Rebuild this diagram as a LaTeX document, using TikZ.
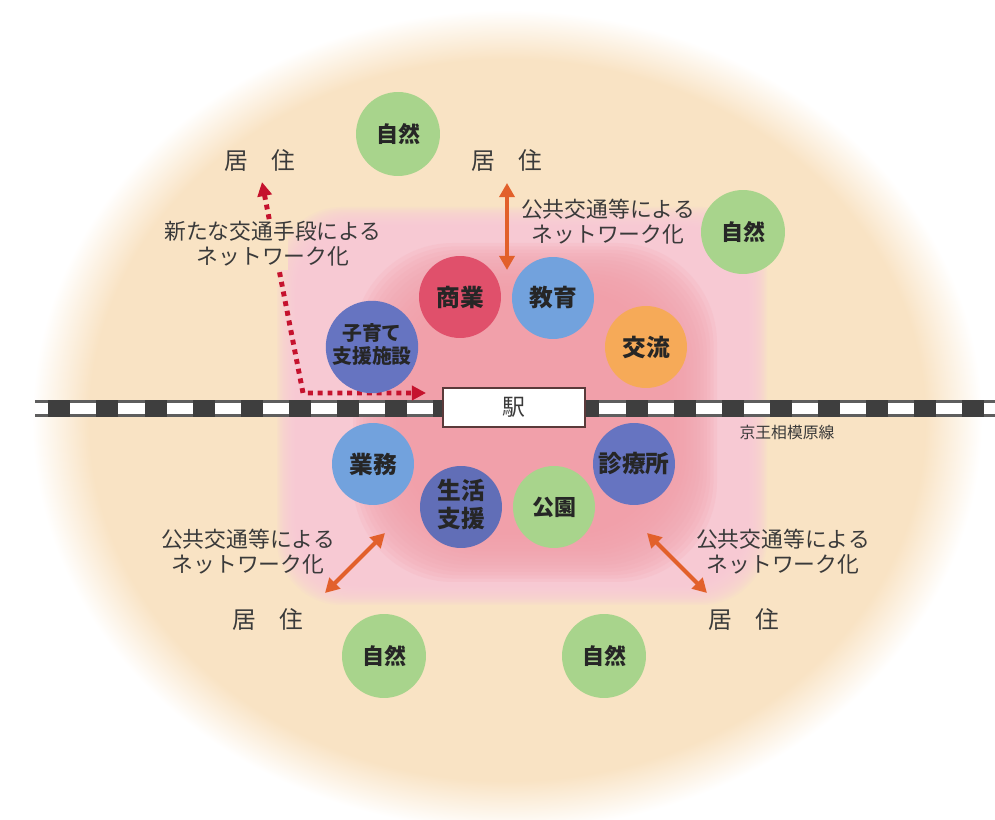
\documentclass[tikz,border=0pt]{standalone}
\usepackage{fontspec}
\setmainfont{Noto Sans CJK JP}
\usetikzlibrary{arrows.meta}
\definecolor{bgbeige}{HTML}{F9E3C4}
\definecolor{pinkbg}{HTML}{F7C9D9}
\definecolor{redblob}{HTML}{F1A0AA}
\definecolor{natgreen}{HTML}{A8D48C}
\definecolor{shored}{HTML}{E0506B}
\definecolor{edublue}{HTML}{72A2DD}
\definecolor{koorange}{HTML}{F6AA58}
\definecolor{purpblue}{HTML}{6674C1}
\definecolor{arroworange}{HTML}{E2602B}
\definecolor{dotred}{HTML}{C5122D}
\definecolor{txtgray}{HTML}{3A3A3A}
\definecolor{trackdark}{HTML}{3E3E3E}
\definecolor{trackline}{HTML}{5E5E5E}
\definecolor{ekiframe}{HTML}{5A3A3A}
\pgfdeclareradialshading{beigefade}{\pgfpoint{0bp}{0bp}}{color(0bp)=(bgbeige); color(22bp)=(bgbeige); color(25bp)=(white); color(50bp)=(white)}
\newcommand\twolines[2]{\begin{tabular}{@{}c@{}}#1\\#2\end{tabular}}
\tikzset{
  circ/.style={circle, minimum size=1.64cm, inner sep=0pt, text=black!85,
    font=\fontsize{13.5pt}{15pt}\selectfont\bfseries, align=center},
  nat/.style={circ, fill=natgreen, minimum size=1.68cm,
    font=\fontsize{12.5pt}{14pt}\selectfont\bfseries},
  kyo/.style={text=txtgray, inner sep=0pt, font=\fontsize{13.5pt}{15pt}\selectfont},
  netlbl/.style={text=txtgray, inner sep=1pt, font=\fontsize{12.4pt}{13pt}\selectfont},
  dblarrow/.style={arroworange, line width=2.3pt,
    {Triangle[length=8pt,width=8.5pt]}-{Triangle[length=8pt,width=8.5pt]}},
  dotpath/.style={dotred, line width=2.8pt, dash pattern=on 2.8pt off 2.8pt,
    {Triangle[length=8pt,width=8pt]}-{Triangle[length=8pt,width=8pt]}},
}
\begin{document}
\begin{tikzpicture}[x=0.02cm, y=-0.02cm]
\useasboundingbox (0,0) rectangle (995,820);
\fill[white] (0,0) rectangle (995,820);
% beige field
\shade[shading=beigefade] (507,420) ellipse [x radius=475, y radius=410];
% pink soft square
\foreach \i in {0,...,19} {
  \pgfmathsetmacro\o{15*(1-\i/9.5)}
  \fill[pinkbg, fill opacity=0.15, rounded corners=1.3cm]
    (292-\o,222-\o) rectangle (752+\o,590+\o);
}
% darker central blob
\foreach \i in {0,...,19} {
  \pgfmathsetmacro\o{32*(1-\i/9.5)}
  \fill[redblob, fill opacity=0.15, rounded corners=2cm]
    (385-\o,275-\o) rectangle (685+\o,550+\o);
}
% railway
\fill[trackline] (35,400) rectangle (995,417);
\fill[white] (35,403) rectangle (995,414);
\foreach \k in {0,...,19} {
  \fill[trackdark] ({48.3+48.1*\k},400) rectangle +(22,17);
}
\node[draw=ekiframe, line width=1.1pt, fill=white, minimum width=2.84cm,
  minimum height=0.78cm, text=txtgray, font=\fontsize{13pt}{15pt}\selectfont]
  (eki) at (514,407.5) {駅};
\node[text=txtgray, font=\fontsize{9pt}{10pt}\selectfont] (line) at (787,432) {京王相模原線};
% arrow end points
\coordinate (a1) at (507,183);
\coordinate (a2) at (507,270);
\coordinate (b1) at (385,533);
\coordinate (b2) at (325,593);
\coordinate (c1) at (647,533);
\coordinate (c2) at (707,593);
\coordinate (dtop) at (262,182);
\coordinate (dcorner) at (303,393);
\coordinate (dright) at (426,393);
\draw[dotpath] (dtop) -- (dcorner) -- (dright);
% the label interrupts the dotted line
\fill[bgbeige] (260,223) rectangle (288,270);
% circles
\node[nat] (nat1) at (398,134) {自然};
\node[nat] (nat2) at (743,232) {自然};
\node[nat] (nat3) at (384,656) {自然};
\node[nat] (nat4) at (604,656) {自然};
\node[circ, fill=shored] (shogyo) at (460,297) {商業};
\node[circ, fill=edublue] (kyoiku) at (553,298) {教育};
\node[circ, fill=koorange] (koryu) at (646,347) {交流};
\node[circ, fill=purpblue, font=\fontsize{11.3pt}{12.5pt}\selectfont\bfseries] (kosodate) at (372,347) {\twolines{子育て}{支援施設}};
\node[circ, fill=edublue] (gyomu) at (373,464) {業務};
\node[circ, fill=purpblue!95!black] (seikatsu) at (461,507) {\twolines{生活}{支援}};
\node[circ, fill=natgreen, font=\fontsize{12.5pt}{14pt}\selectfont\bfseries] (koen) at (554,507) {公園};
\node[circ, fill=purpblue] (shinryo) at (634,464) {診療所};
% residence labels
\node[kyo] (jk1) at (260,160) {居　住};
\node[kyo] (jk2) at (507,160) {居　住};
\node[kyo] (jk3) at (268,619) {居　住};
\node[kyo] (jk4) at (744,619) {居　住};
% network labels
\node[netlbl] (nl1) at (273,246) {\twolines{新たな交通手段による}{ネットワーク化}};
\node[netlbl] (nl2) at (608,224) {\twolines{公共交通等による}{ネットワーク化}};
\node[netlbl] (nl3) at (248,554) {\twolines{公共交通等による}{ネットワーク化}};
\node[netlbl] (nl4) at (783,554) {\twolines{公共交通等による}{ネットワーク化}};
% arrows
\draw[dblarrow] (a1) -- (a2);
\draw[dblarrow] (b1) -- (b2);
\draw[dblarrow] (c1) -- (c2);
\end{tikzpicture}
\end{document}
